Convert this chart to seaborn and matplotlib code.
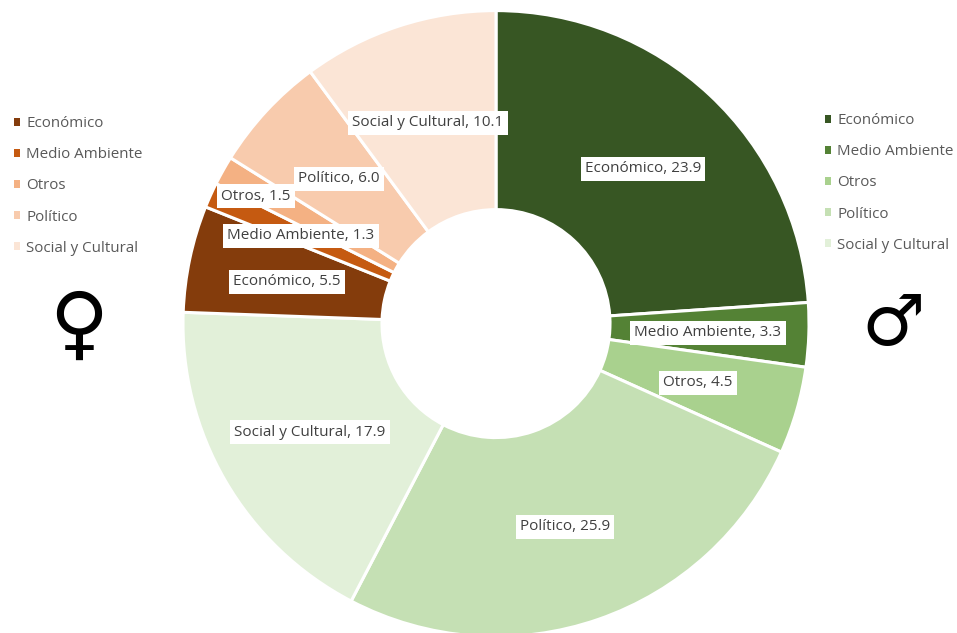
import matplotlib
matplotlib.use("Agg")
import matplotlib.pyplot as plt
from matplotlib.patches import Patch
import seaborn as sns

# Values, clockwise from the top
categories = ["Económico", "Medio Ambiente", "Otros", "Político", "Social y Cultural"]
men_values = [23.9, 3.3, 4.5, 25.9, 17.9]
women_values = [5.5, 1.3, 1.5, 6.0, 10.1]

men_colors = ["#375623", "#548235", "#A9D18E", "#C5E0B4", "#E2F0D9"]
women_colors = ["#843C0C", "#C55A11", "#F4B183", "#F8CBAD", "#FBE5D6"]

# Label centres in image pixels
men_label_xy = [(643, 169), (708, 333), (698, 383), (565, 527), (310, 432)]
women_label_xy = [(287, 282), (301, 236), (256, 196), (339, 179), (428, 123)]

W, H = 957, 633
CX, CY, R, HOLE = 496, 323.6, 313, 114

sns.set_theme(style="white")
plt.rcParams["font.family"] = ["Open Sans", "DejaVu Sans"]

fig = plt.figure(figsize=(W / 100, H / 100), dpi=100, facecolor="white")
ax = fig.add_axes([(CX - R) / W, (H - CY - R) / H, 2 * R / W, 2 * R / H])

values = men_values + women_values
colors = sns.color_palette(men_colors + women_colors)
ax.pie(
    values,
    colors=colors,
    startangle=90,
    counterclock=False,
    radius=1,
    wedgeprops=dict(width=1 - HOLE / R, edgecolor="white", linewidth=2.2),
)
ax.set_xlim(-1, 1)
ax.set_ylim(-1, 1)
for w in ax.patches:
    w.set_clip_on(False)


def px(x, y):
    return x / W, 1 - y / H


# Data labels
labels = [f"{c}, {v:.1f}" for c, v in zip(categories, men_values)]
labels += [f"{c}, {v:.1f}" for c, v in zip(categories, women_values)]
for text, (x, y) in zip(labels, men_label_xy + women_label_xy):
    fx, fy = px(x, y)
    fig.text(
        fx, fy, text,
        ha="center", va="center", fontsize=11, color="#404040", zorder=5,
        bbox=dict(facecolor="white", edgecolor="none", pad=3),
    )


# Legends
def add_legend(colors_list, x, y):
    handles = [Patch(facecolor=c, edgecolor="none") for c in colors_list]
    leg = fig.legend(
        handles, categories,
        loc="upper left", bbox_to_anchor=px(x, y), frameon=False,
        fontsize=10.9, labelcolor="#595959",
        handlelength=0.42, handleheight=0.42, handletextpad=0.4,
        labelspacing=1.07, borderpad=0, borderaxespad=0,
    )
    return leg


add_legend(women_colors, 14, 116)
add_legend(men_colors, 825, 113)

# Gender symbols
fx, fy = px(79, 328)
fig.text(fx, fy, "♀", ha="center", va="center", fontsize=58, color="black",
         family="DejaVu Sans")
fx, fy = px(893, 325)
fig.text(fx, fy, "♂", ha="center", va="center", fontsize=51, color="black",
         family="DejaVu Sans")

fig.savefig("out.png", dpi=100)
